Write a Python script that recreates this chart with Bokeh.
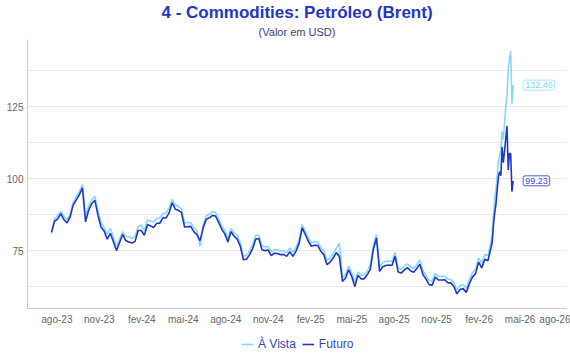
import pandas as pd
from bokeh.plotting import figure
from bokeh.layouts import column
from bokeh.models import (Title, FixedTicker, CustomJSTickFormatter, Legend, LegendItem,
                          Label, ColumnDataSource, Range1d)
from bokeh.embed import file_html
from bokeh.resources import INLINE

# ---------------- data ----------------
titulo = "4 - Commodities: Petróleo (Brent)"
subtitulo = "(Valor em USD)"
nomes = ["À Vista", "Futuro"]
meses = ["jan", "fev", "mar", "abr", "mai", "jun", "jul", "ago", "set", "out", "nov", "dez"]
ticks_x = ["2023-08-01", "2023-11-01", "2024-02-01", "2024-05-01", "2024-08-01",
           "2024-11-01", "2025-02-01", "2025-05-01", "2025-08-01", "2025-11-01",
           "2026-02-01", "2026-05-01", "2026-08-01"]
ticks_y = [75, 100, 125]
grade_y = [62.5, 75, 87.5, 100, 112.5, 125, 137.5]

# readings at a regular step, then a finer step for the final spike
inicio_leituras = "2023-07-20 07:00"
passo_leituras = "161h"
passo_final = "64h"

futuro_leituras = [
    81.4, 85.2, 86.0, 87.8, 85.8, 84.6, 86.6, 90.8, 92.6, 94.4,
    96.8, 85.0, 89.0, 91.3, 92.5, 87.3, 83.2, 81.8, 79.0, 81.0,
    78.1, 75.0, 77.8, 80.6, 78.5, 78.0, 77.6, 78.2, 82.0, 82.0,
    80.3, 84.0, 83.6, 83.0, 84.5, 84.5, 86.4, 86.3, 88.1, 91.6,
    89.4, 89.0, 88.2, 83.2, 83.3, 83.4, 81.6, 80.5, 78.5, 82.9,
    85.9, 86.4, 87.2, 87.0, 84.8, 82.4, 80.8, 78.0, 81.6, 80.0,
    79.0, 76.5, 71.8, 72.0, 73.6, 75.7, 79.0, 79.2, 75.3, 75.0,
    75.2, 73.3, 74.1, 74.0, 73.6, 73.7, 73.0, 74.6, 73.0, 74.8,
    77.5, 82.9, 80.6, 78.2, 76.5, 76.9, 76.8, 74.8, 73.6, 70.1,
    71.0, 72.4, 74.3, 73.0, 64.3, 65.5, 68.3, 66.0, 62.5, 66.4,
    65.2, 65.2, 66.6, 68.5, 75.5, 79.4, 67.8, 69.4, 69.8, 70.0,
    69.8, 73.0, 67.6, 67.2, 68.3, 69.1, 68.0, 67.5, 68.8, 70.3,
    66.7, 65.1, 63.2, 63.0, 65.8, 64.8, 64.8, 64.9, 63.9, 63.8,
    62.5, 60.0, 61.5, 61.8, 60.5, 63.5, 65.8, 67.0, 71.0, 69.0,
    72.0, 71.5, 76.0]

vista_leituras = [
    80.8, 86.0, 87.2, 88.6, 87.0, 85.8, 87.5, 91.8, 93.8, 95.6,
    97.9, 87.0, 90.5, 92.6, 93.9, 89.0, 84.8, 83.0, 80.6, 82.8,
    79.6, 76.5, 79.0, 81.6, 80.0, 79.8, 79.2, 80.0, 83.4, 83.9,
    82.0, 85.6, 85.2, 84.9, 86.2, 86.3, 87.9, 88.0, 89.6, 92.8,
    90.8, 90.4, 89.5, 84.6, 84.8, 84.7, 83.0, 81.8, 76.5, 83.8,
    87.0, 87.6, 88.6, 88.3, 86.0, 83.6, 82.0, 79.2, 82.7, 81.2,
    80.2, 77.8, 73.0, 73.4, 74.9, 77.0, 80.3, 80.4, 76.6, 76.3,
    76.4, 74.6, 75.3, 75.3, 74.9, 75.0, 74.3, 75.9, 74.4, 76.1,
    78.8, 83.9, 81.8, 79.4, 77.7, 78.1, 78.0, 76.0, 74.9, 71.6,
    72.4, 73.8, 75.8, 77.6, 65.6, 66.8, 69.6, 67.3, 63.9, 67.6,
    66.5, 66.6, 67.9, 70.0, 76.8, 80.6, 69.2, 70.8, 71.3, 71.4,
    71.1, 74.4, 69.0, 68.6, 69.6, 70.4, 69.3, 68.8, 70.1, 71.8,
    68.0, 66.4, 64.6, 64.4, 67.0, 66.0, 66.1, 66.1, 65.1, 65.0,
    63.8, 61.4, 62.8, 63.2, 61.9, 65.0, 67.3, 68.6, 72.5, 70.6,
    73.6, 73.3, 78.0]

futuro_final = [78.0, 84.0, 88.0, 91.0, 96.0, 100.5, 102.5, 101.0, 111.0,
                105.5, 109.5, 114.0, 118.2, 103.0, 108.9, 108.5, 95.5, 99.23]
vista_final = [81.0, 87.0, 93.0, 96.0, 101.0, 106.0, 108.0, 110.0, 116.4,
               113.5, 119.3, 125.0, 128.6, 138.0, 141.3, 144.2, 126.0, 132.46]

# ---------------- build ----------------
datas_a = pd.date_range(inicio_leituras, periods=len(futuro_leituras), freq=passo_leituras)
datas_b = pd.date_range(datas_a[-1] + pd.Timedelta(passo_final),
                        periods=len(futuro_final), freq=passo_final)
datas = datas_a.append(datas_b)
src = ColumnDataSource(dict(data=datas,
                            vista=vista_leituras + vista_final,
                            futuro=futuro_leituras + futuro_final))

FONT = "Liberation Sans"
COR_VISTA = "#86d9f3"
COR_FUTURO = "#2236c9"

p = figure(width=570, height=336, x_axis_type="datetime", output_backend="svg",
           toolbar_location=None,
           x_range=Range1d(pd.Timestamp("2023-05-29 07:00"), pd.Timestamp("2026-08-09 12:00")),
           y_range=Range1d(54.9, 148.3),
           min_border_left=27, min_border_right=4, min_border_top=0, min_border_bottom=28)
p.title.visible = False
p.outline_line_color = None
p.background_fill_color = "white"

p.add_layout(Title(text=subtitulo, align="center", text_font=FONT, text_font_size="11px",
                   text_font_style="normal", text_color="#3b4270", standoff=4), "above")
p.add_layout(Title(text=titulo, align="center", text_font=FONT, text_font_size="17px",
                   text_font_style="bold", text_color="#1f36c7", standoff=0), "above")

r1 = p.line(x="data", y="vista", source=src, line_color=COR_VISTA, line_width=1.6)
r2 = p.line(x="data", y="futuro", source=src, line_color=COR_FUTURO, line_width=1.6)

# axes
p.xaxis.ticker = FixedTicker(ticks=[pd.Timestamp(t).value / 1e6 for t in ticks_x])
p.xaxis.formatter = CustomJSTickFormatter(args=dict(meses=meses), code="""
    const d = new Date(tick);
    return meses[d.getUTCMonth()] + "-" + String(d.getUTCFullYear()).slice(2);
""")
p.yaxis.ticker = FixedTicker(ticks=ticks_y)
for ax in (p.xaxis[0], p.yaxis[0]):
    ax.axis_line_color = "#cccccc"
    ax.major_tick_line_color = None
    ax.minor_tick_line_color = None
    ax.major_tick_out = 0
    ax.major_tick_in = 0
    ax.minor_tick_out = 0
    ax.major_label_text_font = FONT
    ax.major_label_text_font_size = "10px"
    ax.major_label_text_color = "#666666"
p.xaxis.major_label_standoff = 5
p.yaxis.major_label_standoff = 4

p.xgrid.visible = False
p.ygrid.ticker = FixedTicker(ticks=grade_y)
p.ygrid.grid_line_color = "#e9e9e9"

# end labels
ult = datas[-1].value / 1e6
for val, cor, borda in ((vista_final[-1], "#7fd3ef", "#a9e3f5"),
                        (futuro_final[-1], "#3347cf", "#4a5fd6")):
    p.add_layout(Label(x=ult, y=val, text=f"{val:.2f}", x_offset=10,
                       text_align="left", text_baseline="middle",
                       text_font=FONT, text_font_size="9px", text_color=cor,
                       border_line_color=borda, background_fill_color="white",
                       padding=2, border_radius=2))

# legend strip below the chart (its lines use the same data, far outside its own ranges)
pl = figure(width=570, height=16, output_backend="svg", toolbar_location=None,
            x_range=Range1d(0, 1), y_range=Range1d(0, 1),
            x_axis_location=None, y_axis_location=None, min_border=0)
pl.title.visible = False
pl.outline_line_color = None
pl.grid.visible = False
g1 = pl.line(x="data", y="vista", source=src, line_color=COR_VISTA, line_width=1.6)
g2 = pl.line(x="data", y="futuro", source=src, line_color=COR_FUTURO, line_width=1.6)
legend = Legend(items=[LegendItem(label=nomes[0], renderers=[g1]),
                       LegendItem(label=nomes[1], renderers=[g2])],
                orientation="horizontal", location=(214, 1),
                border_line_color=None, background_fill_alpha=0,
                label_text_font=FONT, label_text_font_size="12px",
                label_text_color="#3548c0", glyph_width=12, glyph_height=14,
                label_height=14, label_standoff=5, spacing=6, padding=0, margin=0)
pl.add_layout(legend)

open("out.html", "w").write(file_html(column(p, pl, spacing=0), INLINE))
